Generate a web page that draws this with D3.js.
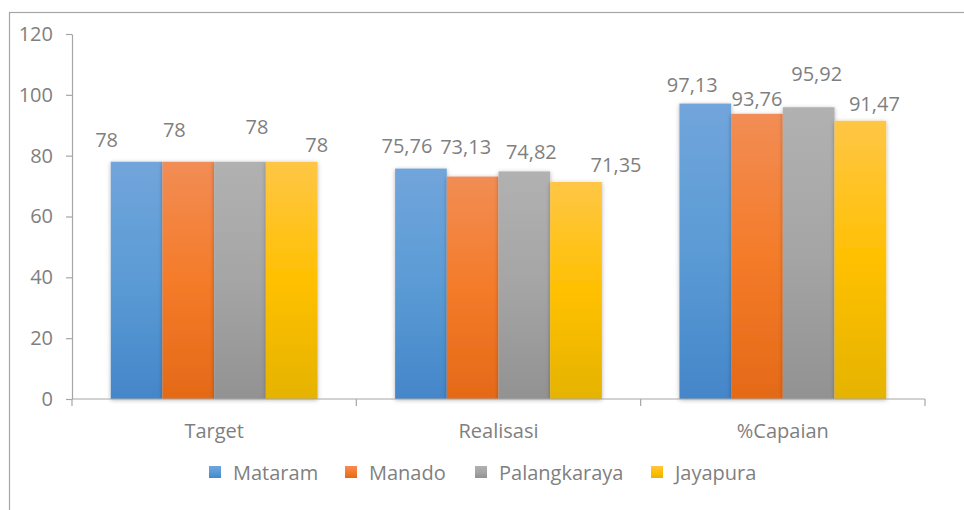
<!DOCTYPE html>
<html>
<head>
<meta charset="utf-8">
<script src="https://cdn.jsdelivr.net/npm/d3@7"></script>
<style>
  html, body { margin: 0; padding: 0; background: #fff; }
  svg { display: block; }
  text { font-family: "Open Sans", "Noto Sans", sans-serif; fill: #7f7f7f; }
</style>
</head>
<body>
<svg id="chart" width="964" height="510"></svg>
<script>
// ---- data ----
const categories = ["Target", "Realisasi", "%Capaian"];
const seriesNames = ["Mataram", "Manado", "Palangkaraya", "Jayapura"];
const mataram = [78, 75.76, 97.13];
const manado = [78, 73.13, 93.76];
const palangkaraya = [78, 74.82, 95.92];
const jayapura = [78, 71.35, 91.47];
const yTicks = [0, 20, 40, 60, 80, 100, 120];

// ---- layout / style ----
const W = 964, H = 510;
const plot = { left: 72, right: 925, top: 34, bottom: 399 };
const colors = {
  Mataram:      ["#71a5db", "#5b9bd5", "#4486c9"],
  Manado:       ["#f28d55", "#f47b29", "#e46a18"],
  Palangkaraya: ["#b1b1b1", "#a5a5a5", "#929292"],
  Jayapura:     ["#ffc646", "#ffc000", "#e5b300"]
};
// label nudges (dx, dy from bar centre / bar top), per category per series
const labelNudge = [
  [[-30, -15], [-14, -25], [17, -28], [25, -10]],
  [[-14, -16], [-7, -23], [7, -12], [40, -10]],
  [[-13, -12], [0, -8], [8, -26], [14, -10]]
];
const FS = "20px";

const values = [mataram, manado, palangkaraya, jayapura];
const table = categories.map((c, ci) => ({
  category: c,
  items: seriesNames.map((s, si) => ({ series: s, value: values[si][ci], ci, si }))
}));

const svg = d3.select("#chart");
const fmt = v => String(v).replace(".", ",");

// border
svg.append("rect")
  .attr("x", 9.5).attr("y", 12.5)
  .attr("width", W + 20).attr("height", H + 20)
  .attr("fill", "none").attr("stroke", "#a6a6a6").attr("stroke-width", 1.2);

const y = d3.scaleLinear().domain([0, 120]).range([plot.bottom, plot.top]);
const x0 = d3.scaleBand().domain(categories).range([plot.left, plot.right]).paddingInner(0).paddingOuter(0);
const x1 = d3.scaleBand().domain(seriesNames).range([0, x0.bandwidth()]).paddingInner(0).paddingOuter(0.75);

// defs: gradients + shadow
const defs = svg.append("defs");
seriesNames.forEach((s, i) => {
  const g = defs.append("linearGradient").attr("id", "grad" + i)
    .attr("x1", 0).attr("y1", 0).attr("x2", 0).attr("y2", 1);
  g.append("stop").attr("offset", "0%").attr("stop-color", colors[s][0]);
  g.append("stop").attr("offset", "50%").attr("stop-color", colors[s][1]);
  g.append("stop").attr("offset", "100%").attr("stop-color", colors[s][2]);
});
const f = defs.append("filter").attr("id", "shadow")
  .attr("x", "-20%").attr("y", "-20%").attr("width", "140%").attr("height", "140%");
f.append("feDropShadow").attr("dx", 0).attr("dy", 1).attr("stdDeviation", 2.2)
  .attr("flood-color", "#000").attr("flood-opacity", 0.3);

// y axis
const yAxis = svg.append("g")
  .attr("transform", `translate(${plot.left},0)`)
  .call(d3.axisLeft(y).tickValues(yTicks).tickSize(6).tickPadding(13).tickSizeOuter(0));
yAxis.select(".domain").attr("stroke", "#a6a6a6").attr("stroke-width", 1.2);
yAxis.selectAll(".tick line").attr("stroke", "#a6a6a6").attr("stroke-width", 1.2);
yAxis.selectAll(".tick text").style("font-size", FS).attr("fill", "#7f7f7f")
  .style("font-family", '"Open Sans", sans-serif');

// bars
const groups = svg.append("g").selectAll("g").data(table).join("g")
  .attr("transform", d => `translate(${x0(d.category)},0)`);
groups.selectAll("rect").data(d => d.items).join("rect")
  .attr("x", d => x1(d.series))
  .attr("y", d => y(d.value))
  .attr("width", x1.bandwidth())
  .attr("height", d => y(0) - y(d.value))
  .attr("fill", d => `url(#grad${d.si})`)
  .attr("filter", "url(#shadow)");

// x axis (after bars)
const xg = svg.append("g");
xg.append("line")
  .attr("x1", plot.left).attr("x2", plot.right)
  .attr("y1", y(0)).attr("y2", y(0))
  .attr("stroke", "#a6a6a6").attr("stroke-width", 1.2);
const boundaries = categories.map(c => x0(c)).concat([x0(categories[categories.length - 1]) + x0.bandwidth()]);
xg.selectAll("line.tk").data(boundaries).join("line").attr("class", "tk")
  .attr("x1", d => d).attr("x2", d => d)
  .attr("y1", y(0)).attr("y2", y(0) + 7)
  .attr("stroke", "#a6a6a6").attr("stroke-width", 1.2);
xg.selectAll("text").data(categories).join("text")
  .attr("x", d => x0(d) + x0.bandwidth() / 2)
  .attr("y", y(0) + 39)
  .attr("text-anchor", "middle")
  .style("font-size", FS)
  .text(d => d);

// data labels
groups.selectAll("text").data(d => d.items).join("text")
  .attr("x", d => x1(d.series) + x1.bandwidth() / 2 + labelNudge[d.ci][d.si][0])
  .attr("y", d => y(d.value) + labelNudge[d.ci][d.si][1])
  .attr("text-anchor", "middle")
  .style("font-size", FS)
  .text(d => fmt(d.value));

// legend
const legend = svg.append("g").attr("transform", "translate(209,0)");
const legendX = [0, 136, 266, 442];
seriesNames.forEach((s, i) => {
  const g = legend.append("g").attr("transform", `translate(${legendX[i]},0)`);
  g.append("rect").attr("x", 0).attr("y", 466).attr("width", 12).attr("height", 12)
    .attr("fill", `url(#grad${i})`);
  g.append("text").attr("x", 24).attr("y", 480).style("font-size", FS).text(s);
});
</script>
</body>
</html>
